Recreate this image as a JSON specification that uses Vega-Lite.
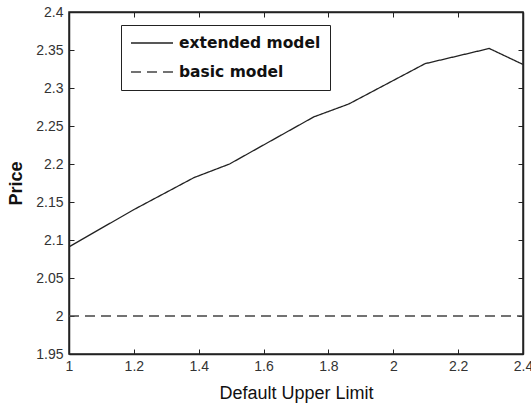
{
  "$schema": "https://vega.github.io/schema/vega-lite/v6.json",
  "autosize": {"type": "none"},
  "padding": {"left": 69, "top": 12, "right": 8, "bottom": 53},
  "width": 454,
  "height": 342,
  "background": "white",
  "config": {
    "view": {"stroke": "#222", "strokeWidth": 1.5},
    "axis": {
      "grid": false,
      "domainColor": "#222",
      "domainWidth": 1.5,
      "tickColor": "#222",
      "tickWidth": 1,
      "tickSize": -5,
      "labelFont": "Liberation Sans",
      "labelFontSize": 14,
      "labelColor": "#333",
      "titleFont": "Liberation Sans",
      "titleColor": "#111"
    }
  },
  "data": {
    "values": [
      {"x": 1.0, "y": 2.091, "model": "extended model"},
      {"x": 1.2, "y": 2.140, "model": "extended model"},
      {"x": 1.385, "y": 2.182, "model": "extended model"},
      {"x": 1.495, "y": 2.200, "model": "extended model"},
      {"x": 1.755, "y": 2.262, "model": "extended model"},
      {"x": 1.863, "y": 2.279, "model": "extended model"},
      {"x": 2.098, "y": 2.332, "model": "extended model"},
      {"x": 2.296, "y": 2.352, "model": "extended model"},
      {"x": 2.4, "y": 2.331, "model": "extended model"},
      {"x": 1.0, "y": 2.0, "model": "basic model"},
      {"x": 2.4, "y": 2.0, "model": "basic model"}
    ]
  },
  "layer": [
    {
      "mark": {"type": "line", "strokeWidth": 1.3, "clip": true},
      "encoding": {
        "x": {
          "field": "x", "type": "quantitative",
          "scale": {"domain": [1, 2.4], "nice": false, "zero": false},
          "axis": {
            "orient": "bottom",
            "values": [1, 1.2, 1.4, 1.6, 1.8, 2, 2.2, 2.4],
            "format": "~g",
            "labelPadding": 10,
            "labelFlush": false,
            "title": "Default Upper Limit",
            "titleFontSize": 18,
            "titleFontWeight": 500,
            "titlePadding": 11
          }
        },
        "y": {
          "field": "y", "type": "quantitative",
          "scale": {"domain": [1.95, 2.4], "nice": false, "zero": false},
          "axis": {
            "orient": "left",
            "values": [1.95, 2, 2.05, 2.1, 2.15, 2.2, 2.25, 2.3, 2.35, 2.4],
            "format": "~g",
            "labelPadding": 11,
            "labelFlush": false,
            "title": "Price",
            "titleFontSize": 18,
            "titleFontWeight": "bold",
            "titlePadding": 10
          }
        },
        "color": {
          "field": "model", "type": "nominal",
          "scale": {"domain": ["extended model", "basic model"], "range": ["#222", "#444"]},
          "legend": {
            "title": null,
            "orient": "none",
            "legendX": 52,
            "legendY": 13,
            "strokeColor": "#222",
            "fillColor": "white",
            "padding": 9,
            "symbolType": "stroke",
            "symbolSize": 1764,
            "symbolStrokeWidth": 1.3,
            "clipHeight": 18,
            "labelFont": "DejaVu Sans",
            "labelFontWeight": "bold",
            "labelFontSize": 15.5,
            "labelColor": "#111",
            "labelOffset": 5,
            "rowPadding": 11
          }
        },
        "strokeDash": {
          "field": "model", "type": "nominal",
          "scale": {"domain": ["extended model", "basic model"], "range": [[1, 0], [10, 6]]},
          "legend": {"title": null}
        }
      }
    },
    {
      "mark": {"type": "line", "opacity": 0},
      "encoding": {
        "x": {
          "field": "x", "type": "quantitative",
          "scale": {"domain": [1, 2.4], "nice": false, "zero": false},
          "axis": {"orient": "top", "values": [1, 1.2, 1.4, 1.6, 1.8, 2, 2.2, 2.4], "labels": false, "title": null}
        },
        "y": {
          "field": "y", "type": "quantitative",
          "scale": {"domain": [1.95, 2.4], "nice": false, "zero": false},
          "axis": {"orient": "right", "values": [1.95, 2, 2.05, 2.1, 2.15, 2.2, 2.25, 2.3, 2.35, 2.4], "labels": false, "title": null}
        }
      }
    }
  ],
  "resolve": {"axis": {"x": "independent", "y": "independent"}}
}
